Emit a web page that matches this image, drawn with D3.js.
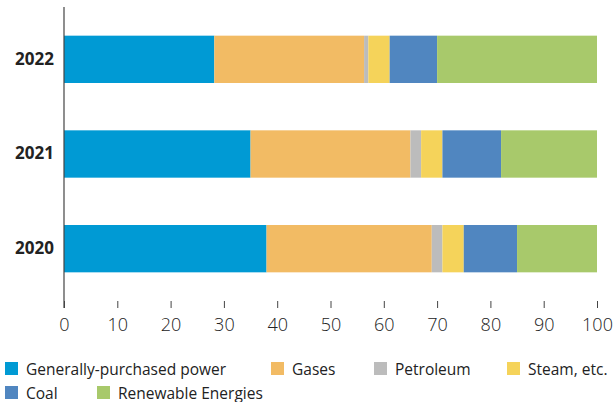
<!DOCTYPE html>
<html>
<head>
<meta charset="utf-8">
<script src="https://cdn.jsdelivr.net/npm/d3@7"></script>
<style>
  html, body { margin: 0; padding: 0; background: #fff; }
  svg { display: block; }
  text { font-family: "Open Sans", "Noto Sans", sans-serif; fill: #222; }
</style>
</head>
<body>
<svg id="chart" width="616" height="402"></svg>
<script>
const years = ["2022", "2021", "2020"];
const seriesNames = ["Generally-purchased power", "Gases", "Petroleum", "Steam, etc.", "Coal", "Renewable Energies"];
const purchasedPower = [28.2, 35, 38];
const gases = [28.1, 30, 31];
const petroleum = [0.8, 2, 2];
const steam = [4, 4, 4];
const coal = [8.9, 11, 10];
const renewable = [30, 18, 15];
const xTicks = [0, 10, 20, 30, 40, 50, 60, 70, 80, 90, 100];
const colors = ["#009ad4", "#f2bb64", "#bcbcbc", "#f5d35a", "#5086c0", "#a8c96b"];

const seriesValues = [purchasedPower, gases, petroleum, steam, coal, renewable];
const table = years.map((y, i) => {
  const row = { year: y };
  seriesNames.forEach((s, k) => { row[s] = seriesValues[k][i]; });
  return row;
});

const svg = d3.select("#chart");
const x = d3.scaleLinear().domain([0, 100]).range([64, 597]);
const y = d3.scaleBand().domain(years).range([12, 296]).paddingInner(0.5).paddingOuter(0.25);
const color = d3.scaleOrdinal().domain(seriesNames).range(colors);

const stacked = d3.stack().keys(seriesNames)(table);

svg.append("g").selectAll("g")
  .data(stacked)
  .join("g")
  .attr("fill", d => color(d.key))
  .selectAll("rect")
  .data(d => d)
  .join("rect")
  .attr("x", d => x(d[0]))
  .attr("width", d => x(d[1]) - x(d[0]))
  .attr("y", d => y(d.data.year))
  .attr("height", y.bandwidth());

// vertical axis line
svg.append("line")
  .attr("x1", x(0)).attr("x2", x(0))
  .attr("y1", 7).attr("y2", 308)
  .attr("stroke", "#444").attr("stroke-width", 1.2);

// x axis ticks (no domain line)
const xAxis = svg.append("g")
  .attr("transform", "translate(0,301)")
  .call(d3.axisBottom(x).tickValues(xTicks).tickSize(7).tickPadding(10).tickFormat(d3.format("d")));
xAxis.select(".domain").remove();
xAxis.selectAll(".tick line").attr("stroke", "#444");
xAxis.selectAll(".tick text")
  .style("font-family", '"Open Sans", "Noto Sans", sans-serif')
  .style("font-size", "18px")
  .style("font-weight", "300")
  .attr("fill", "#222");

// y labels
const yAxis = svg.append("g")
  .attr("transform", "translate(" + x(0) + ",0)")
  .call(d3.axisLeft(y).tickSize(0).tickPadding(10));
yAxis.select(".domain").remove();
yAxis.selectAll(".tick text")
  .style("font-family", '"Open Sans", "Noto Sans", sans-serif')
  .style("font-size", "17px")
  .style("font-weight", "bold")
  .attr("fill", "#222");

// legend
const legendPos = [[5, 362], [271, 362], [374, 362], [507, 362], [5, 386], [97, 386]];
const legend = svg.append("g").selectAll("g")
  .data(seriesNames)
  .join("g")
  .attr("transform", (d, i) => "translate(" + legendPos[i][0] + "," + legendPos[i][1] + ")");
legend.append("rect")
  .attr("width", 13).attr("height", 13)
  .attr("fill", d => color(d));
legend.append("text")
  .attr("x", 21).attr("y", 12.5)
  .style("font-size", "15.5px")
  .text(d => d);
</script>
</body>
</html>
